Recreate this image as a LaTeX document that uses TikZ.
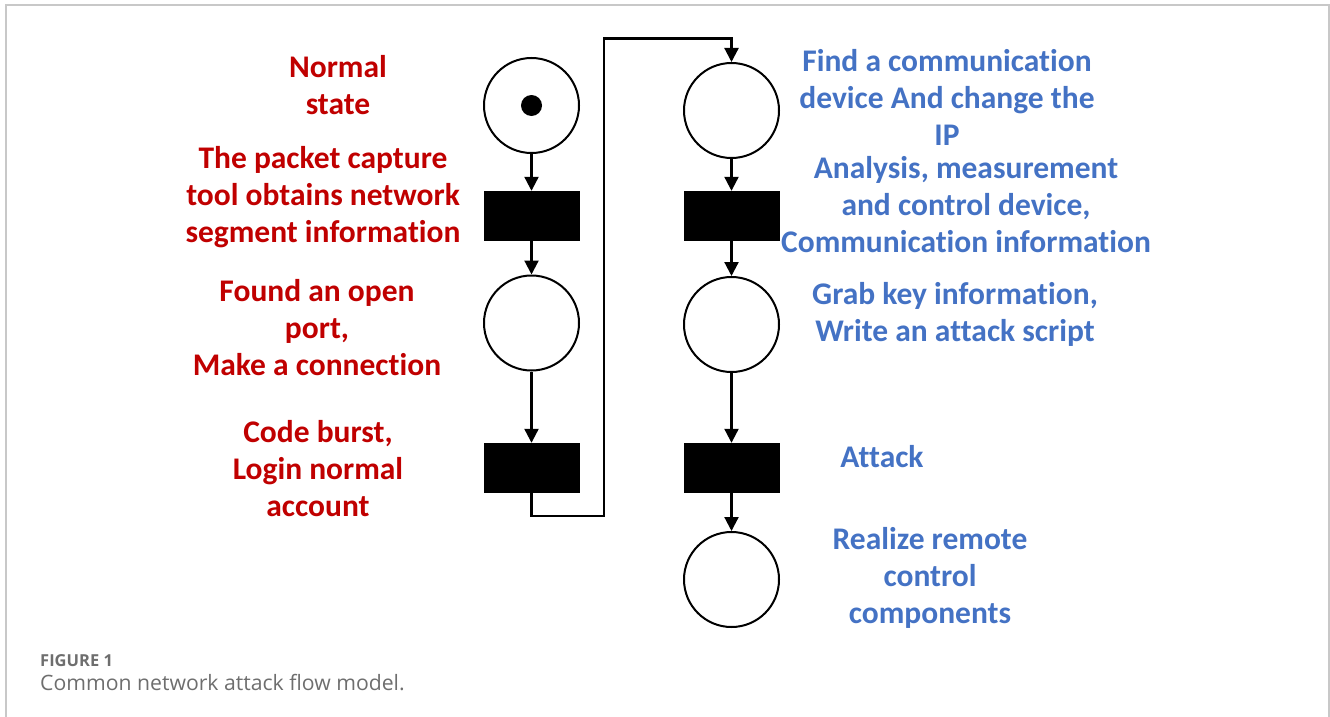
\documentclass[tikz,border=0pt]{standalone}
\usepackage{fontspec}
\setmainfont{Carlito}[Ligatures=NoCommon]
\newfontfamily\capfont{Open Sans}
\usetikzlibrary{arrows.meta}
\definecolor{redtxt}{HTML}{C00000}
\definecolor{bluetxt}{HTML}{4472C4}
\definecolor{framegray}{HTML}{C8C8C8}
\definecolor{capgray}{HTML}{6E6E6E}
\begin{document}
\begin{tikzpicture}[x=1pt,y=-1pt,
  place/.style={circle,draw,line width=2pt,minimum size=95pt,inner sep=0pt},
  trans/.style={rectangle,fill=black,draw=black,minimum width=95pt,minimum height=49pt,inner sep=0pt},
  token/.style={circle,fill=black,minimum size=21pt,inner sep=0pt},
  flow/.style={line width=2.2pt,-{Triangle[length=14pt,width=14pt]}},
  lbl/.style={align=center,inner sep=0pt,font=\bfseries\fontsize{31.5}{37}\selectfont},
  redlbl/.style={lbl,text=redtxt},
  bluelbl/.style={lbl,text=bluetxt}]
\useasboundingbox (0,0) rectangle (1330,717);
\draw[framegray,line width=1.5pt] (6,717) -- (6,5) -- (1329,5) -- (1329,717);
% left column
\node[place] (p1) at (531.5,105.5) {};
\node[token] (tk) at (531.5,105.5) {};
\node[trans] (t1) at (531.5,215.5) {};
\node[place] (p2) at (531.5,323) {};
\node[trans] (t2) at (531.5,467.5) {};
% right column
\node[place] (p3) at (731.5,110.5) {};
\node[trans] (t3) at (731.5,215.5) {};
\node[place] (p4) at (731.5,324.5) {};
\node[trans] (t4) at (731.5,467.5) {};
\node[place] (p5) at (731.5,579.5) {};
\coordinate (c1) at (531.5,516);
\coordinate (c2) at (604,516);
\coordinate (c3) at (604,38.5);
\coordinate (c4) at (731.5,38.5);
\draw[flow] (p1) -- (t1);
\draw[flow] (t1) -- (p2);
\draw[flow] (p2) -- (t2);
\draw[flow] (t2.south) -- (c1) -- (c2) -- (c3) -- (c4) -- (p3.north);
\draw[flow] (p3) -- (t3);
\draw[flow] (t3) -- (p4);
\draw[flow] (p4) -- (t4);
\draw[flow] (t4) -- (p5);
% labels
\node[redlbl] (l1) at (338,85) {Normal\\state};
\node[redlbl] (l2) at (323,197) {The packet capture\\tool obtains network\\segment information};
\node[redlbl] (l3) at (317,328) {Found an open\\port,\\Make a connection};
\node[redlbl] (l4) at (318,469) {Code burst,\\Login normal\\account};
\node[bluelbl] (l5) at (947,97) {Find a communication\\device And change the\\IP};
\node[bluelbl] (l6) at (966,205) {Analysis, measurement\\and control device,\\Communication information};
\node[bluelbl] (l7) at (955,314) {Grab key information,\\Write an attack script};
\node[bluelbl] (l8) at (882,457) {Attack};
\node[bluelbl] (l9) at (930,578) {Realize remote\\control\\components};
% caption
\node[anchor=base west,inner sep=0pt,text=capgray,font=\capfont\bfseries\fontsize{16.5}{19}\selectfont] (fig) at (40,666) {FIGURE 1};
\node[anchor=base west,inner sep=0pt,text=capgray,font=\capfont\fontsize{21.2}{24}\selectfont] (cap) at (40,690) {Common network attack flow model.};
\end{tikzpicture}
\end{document}
